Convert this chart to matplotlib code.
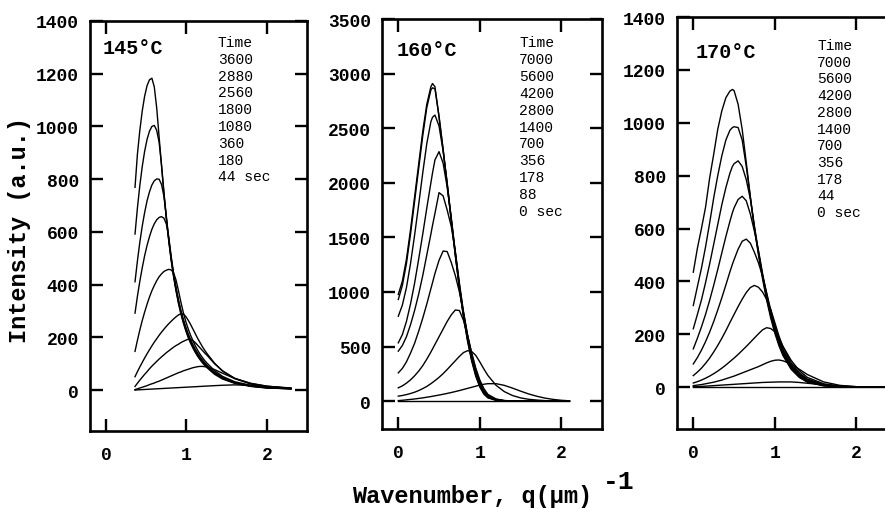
import matplotlib
matplotlib.use("Agg")
import matplotlib.pyplot as plt

# ---------------- data ----------------
# Panel 1 : 145 C
q1 = [0.36, 0.39, 0.42, 0.45, 0.48, 0.51, 0.54, 0.57, 0.60, 0.63, 0.66, 0.69,
      0.72, 0.75, 0.78, 0.81, 0.84, 0.87, 0.90, 0.93, 0.96, 0.99, 1.02, 1.05,
      1.08, 1.11, 1.14, 1.17, 1.20, 1.23, 1.26, 1.35, 1.45, 1.60, 1.80, 2.00, 2.30]
p1_curves = [
    [769, 895, 985, 1059, 1115, 1155, 1177, 1183, 1150, 1070, 960, 850, 745, 650, 565, 492, 430, 377, 330, 290, 256, 227, 201, 179, 160, 143, 128, 115, 103, 93, 84, 60, 42, 26, 14, 8, 5],
    [592, 691, 776, 848, 906, 951, 982, 1000, 1004, 985, 940, 855, 750, 655, 570, 497, 435, 382, 335, 295, 261, 232, 206, 184, 164, 147, 132, 119, 107, 96, 87, 63, 44, 27, 15, 9, 5],
    [411, 490, 561, 622, 674, 718, 752, 778, 794, 801, 800, 780, 735, 658, 573, 500, 438, 385, 339, 299, 265, 236, 210, 188, 168, 151, 136, 122, 110, 99, 90, 65, 46, 28, 16, 9, 5],
    [292, 356, 413, 464, 510, 549, 582, 610, 631, 646, 655, 658, 652, 630, 580, 508, 443, 390, 344, 304, 270, 241, 215, 193, 173, 155, 140, 126, 114, 103, 93, 68, 48, 29, 16, 10, 6],
    [147, 189, 228, 264, 296, 326, 353, 377, 397, 415, 430, 441, 450, 455, 458, 456, 445, 418, 378, 335, 296, 262, 234, 209, 188, 168, 151, 136, 123, 111, 101, 74, 52, 32, 18, 11, 6],
    [51, 70, 88, 105, 122, 138, 153, 168, 182, 195, 208, 220, 231, 242, 252, 261, 270, 278, 285, 290, 289, 280, 266, 250, 232, 214, 196, 180, 164, 150, 137, 102, 72, 44, 23, 13, 6],
    [14, 26, 38, 49, 60, 70, 81, 91, 100, 109, 118, 126, 134, 142, 149, 156, 163, 169, 174, 180, 185, 189, 193, 192, 188, 180, 170, 160, 150, 140, 131, 100, 73, 45, 25, 15, 8],
    [2, 5, 8, 11, 14, 17, 21, 24, 27, 31, 34, 38, 42, 46, 50, 54, 58, 62, 66, 69, 73, 76, 79, 82, 85, 87, 89, 90, 90, 89, 87, 78, 64, 44, 26, 15, 7],
    [0, 1, 1.5, 2, 2.5, 3, 3.5, 4, 4.5, 5, 5.5, 6, 6.5, 7, 7.5, 8, 8.5, 9, 9.5, 10, 10.5, 11, 11.5, 12, 12.5, 13, 13.5, 14, 14.5, 15, 15.5, 17, 18.5, 20, 18, 13, 7],
]
p1_title = "145°C"
p1_times = ["Time", "3600", "2880", "2560", "1800", "1080", "360", "180", "44 sec"]

# Panel 2 : 160 C
q2 = [0, 0.05, 0.10, 0.15, 0.20, 0.25, 0.30, 0.35, 0.40, 0.42, 0.45, 0.50, 0.55,
      0.60, 0.65, 0.70, 0.75, 0.80, 0.85, 0.90, 0.95, 1.00, 1.05, 1.10, 1.20,
      1.30, 1.40, 1.50, 1.60, 1.70, 1.80, 1.90, 2.00, 2.10]
p2_curves = [
    [977, 1100, 1300, 1570, 1870, 2170, 2470, 2720, 2880, 2909, 2880, 2600, 2300, 1980, 1650, 1330, 1030, 770, 550, 370, 230, 130, 65, 30, 8, 2, 0, 0, 0, 0, 0, 0, 0, 0],
    [931, 1060, 1260, 1530, 1830, 2130, 2430, 2690, 2850, 2870, 2860, 2610, 2310, 1990, 1660, 1340, 1040, 780, 560, 380, 240, 138, 70, 33, 9, 2, 1, 0, 0, 0, 0, 0, 0, 0],
    [778, 880, 1040, 1260, 1520, 1800, 2090, 2360, 2560, 2600, 2620, 2520, 2290, 2000, 1670, 1350, 1050, 790, 570, 390, 250, 145, 76, 36, 10, 3, 1, 0, 0, 0, 0, 0, 0, 0],
    [534, 610, 730, 890, 1080, 1300, 1530, 1770, 2000, 2090, 2210, 2285, 2180, 1960, 1680, 1365, 1065, 805, 585, 405, 262, 155, 83, 40, 12, 3, 1, 0, 0, 0, 0, 0, 0, 0],
    [458, 510, 590, 700, 830, 980, 1150, 1340, 1530, 1610, 1720, 1910, 1880, 1750, 1600, 1370, 1080, 820, 600, 420, 275, 165, 90, 45, 14, 4, 1, 0, 0, 0, 0, 0, 0, 0],
    [259, 300, 360, 440, 530, 640, 760, 890, 1030, 1085, 1170, 1290, 1375, 1370, 1270, 1150, 1000, 810, 610, 435, 290, 178, 100, 52, 16, 5, 1, 0, 0, 0, 0, 0, 0, 0],
    [122, 140, 165, 195, 232, 275, 325, 385, 450, 478, 520, 590, 660, 730, 790, 835, 830, 740, 600, 445, 305, 195, 115, 62, 20, 6, 2, 1, 0, 0, 0, 0, 0, 0],
    [46, 52, 60, 70, 82, 97, 115, 135, 160, 171, 188, 218, 252, 290, 330, 370, 410, 445, 462, 455, 420, 360, 295, 235, 145, 88, 52, 30, 17, 10, 5, 2, 1, 0],
    [5, 8, 12, 16, 20, 25, 30, 36, 42, 45, 49, 56, 63, 71, 79, 88, 97, 107, 117, 127, 137, 147, 155, 160, 160, 145, 120, 92, 66, 45, 28, 16, 8, 3],
    [1] * 34,
]
p2_title = "160°C"
p2_times = ["Time", "7000", "5600", "4200", "2800", "1400", "700", "356", "178", "88", "0 sec"]

# Panel 3 : 170 C
q3 = [0, 0.05, 0.10, 0.15, 0.20, 0.25, 0.30, 0.35, 0.40, 0.45, 0.48, 0.50, 0.55,
      0.60, 0.65, 0.70, 0.75, 0.80, 0.85, 0.90, 0.95, 1.00, 1.05, 1.10, 1.20,
      1.30, 1.40, 1.60, 1.80, 2.00, 2.20, 2.40]
p3_curves = [
    [435, 525, 600, 680, 790, 880, 975, 1045, 1095, 1120, 1126, 1122, 1070, 975, 850, 720, 600, 500, 410, 330, 262, 205, 158, 120, 68, 37, 19, 5, 1, 0, 0, 0],
    [309, 380, 450, 530, 620, 715, 800, 875, 935, 972, 982, 985, 982, 935, 835, 720, 605, 507, 418, 338, 270, 212, 165, 126, 72, 40, 21, 6, 1.5, 0, 0, 0],
    [221, 275, 330, 395, 465, 540, 615, 690, 755, 810, 835, 845, 856, 835, 785, 712, 610, 512, 424, 345, 277, 219, 171, 131, 76, 43, 23, 7, 2, 0.5, 0, 0],
    [145, 185, 228, 275, 328, 385, 445, 508, 570, 628, 660, 678, 710, 722, 705, 655, 590, 517, 430, 352, 284, 226, 177, 137, 80, 46, 25, 8, 2, 0.5, 0, 0],
    [88, 112, 140, 172, 208, 248, 292, 338, 387, 437, 465, 482, 522, 552, 560, 545, 510, 470, 420, 358, 292, 234, 184, 143, 85, 50, 28, 9, 3, 1, 0, 0],
    [44, 57, 72, 90, 110, 133, 158, 185, 214, 245, 263, 275, 305, 333, 358, 377, 385, 378, 360, 332, 295, 245, 195, 153, 93, 55, 31, 10, 3, 1, 0, 0],
    [16, 21, 27, 34, 42, 51, 61, 72, 84, 97, 105, 110, 124, 139, 154, 170, 186, 202, 217, 225, 222, 210, 185, 155, 102, 63, 37, 13, 4, 1, 0, 0],
    [6, 8, 10, 13, 16, 19, 23, 27, 32, 37, 40, 42, 48, 54, 60, 66, 72, 78, 85, 92, 98, 102, 103, 100, 88, 68, 48, 20, 7, 2, 1, 0],
    [2, 2.5, 3, 4, 5, 6, 7, 8, 9, 10, 10.5, 11, 12, 13, 14, 15, 16, 17, 18, 18.5, 19, 19.5, 20, 20, 20, 18, 15, 9, 5, 2, 1, 0.5],
    [1] * 32,
]
p3_title = "170°C"
p3_times = ["Time", "7000", "5600", "4200", "2800", "1400", "700", "356", "178", "44", "0 sec"]

yticks_1 = [0, 200, 400, 600, 800, 1000, 1200, 1400]
yticks_2 = [0, 500, 1000, 1500, 2000, 2500, 3000, 3500]
xticks = [0, 1, 2]

# ---------------- figure ----------------
W, H = 885, 510
fig = plt.figure(figsize=(W / 100, H / 100), dpi=100)
FONT = "Liberation Mono"


def px_axes(l, t, r, b):
    return fig.add_axes([l / W, 1 - b / H, (r - l) / W, (b - t) / H])


panels = [
    dict(box=(90, 22, 307, 432), q=q1, curves=p1_curves, ylim=(-155, 1400), yt=yticks_1,
         title=p1_title, tpos=(103, 48), times=p1_times, lpos=(218, 43), lsp=16.8),
    dict(box=(382, 20, 602, 430), q=q2, curves=p2_curves, ylim=(-255, 3500), yt=yticks_2,
         title=p2_title, tpos=(397, 50), times=p2_times, lpos=(519, 43), lsp=16.9),
    dict(box=(677, 18, 897, 430), q=q3, curves=p3_curves, ylim=(-158, 1400), yt=yticks_1,
         title=p3_title, tpos=(696, 52), times=p3_times, lpos=(817, 46), lsp=16.7),
]

for p in panels:
    ax = px_axes(*p["box"])
    for c in p["curves"]:
        ax.plot(p["q"], c, color="black", lw=1.0, solid_joinstyle="round")
    ax.set_xlim(-0.2, 2.5)
    ax.set_ylim(*p["ylim"])
    ax.set_xticks(xticks)
    ax.set_yticks(p["yt"])
    ax.tick_params(which="both", direction="in", top=True, right=True,
                   length=9, width=1.7, pad=8, labelsize=13)
    ax.tick_params(axis="x", pad=11)
    for lab in ax.get_xticklabels() + ax.get_yticklabels():
        lab.set_fontfamily(FONT)
        lab.set_fontweight("bold")
    for s in ax.spines.values():
        s.set_linewidth(1.9)
    fig.text(p["tpos"][0] / W, 1 - p["tpos"][1] / H, p["title"], fontfamily=FONT,
             fontweight="bold", fontsize=14.5, ha="left", va="center")
    for i, t in enumerate(p["times"]):
        fig.text(p["lpos"][0] / W, 1 - (p["lpos"][1] + i * p["lsp"]) / H, t,
                 fontfamily=FONT, fontsize=10.5, ha="left", va="center")

fig.text(20 / W, 1 - 230 / H, "Intensity (a.u.)", fontfamily=FONT, fontweight="bold",
         fontsize=17, rotation=90, ha="center", va="center")
fig.text(352 / W, 1 - 497 / H, "Wavenumber, q(μm)", fontfamily=FONT, fontweight="bold",
         fontsize=17, ha="left", va="center")
fig.text(603 / W, 1 - 482 / H, "-1", fontfamily=FONT, fontweight="bold",
         fontsize=19, ha="left", va="center")

fig.savefig("out.png", dpi=100)
